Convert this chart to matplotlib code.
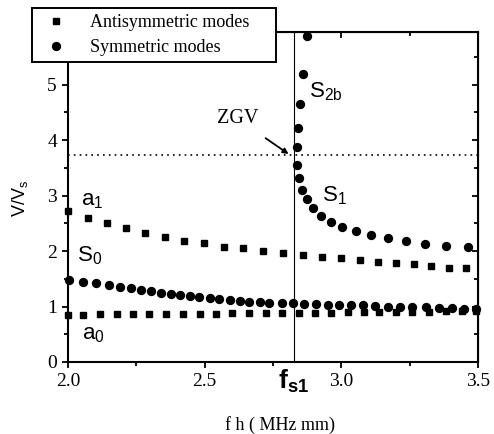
import matplotlib
matplotlib.use("Agg")
import matplotlib.pyplot as plt
import matplotlib.transforms as mtransforms
from matplotlib.patches import Rectangle

# antisymmetric modes (squares)
a1_x = [2.0, 2.073, 2.142, 2.212, 2.281, 2.354, 2.423, 2.496, 2.569, 2.642, 2.712,
        2.785, 2.858, 2.93, 3.0, 3.069, 3.135, 3.20, 3.266, 3.328, 3.394, 3.456]
a1_y = [2.72, 2.60, 2.50, 2.41, 2.32, 2.25, 2.19, 2.14, 2.08, 2.05, 2.01,
        1.97, 1.93, 1.90, 1.87, 1.84, 1.81, 1.78, 1.76, 1.73, 1.70, 1.69]
a0_x = [2.0, 2.054, 2.117, 2.178, 2.238, 2.297, 2.360, 2.421, 2.482, 2.543, 2.601, 2.662, 2.723,
        2.784, 2.844, 2.905, 2.962, 3.023, 3.084, 3.139, 3.20, 3.260, 3.321, 3.382, 3.443, 3.492]
a0_y = [0.85, 0.85, 0.86, 0.865, 0.865, 0.865, 0.87, 0.87, 0.87, 0.87, 0.877, 0.877, 0.877,
        0.88, 0.88, 0.888, 0.888, 0.895, 0.90, 0.90, 0.905, 0.91, 0.91, 0.915, 0.915, 0.915]

# symmetric modes (circles)
s0_x = [2.005, 2.054, 2.102, 2.149, 2.190, 2.229, 2.266, 2.303, 2.341, 2.376, 2.411, 2.445,
        2.481, 2.518, 2.552, 2.591, 2.628, 2.664, 2.702, 2.735, 2.784, 2.822, 2.865, 2.908,
        2.95, 2.993, 3.035, 3.080, 3.124, 3.169, 3.214, 3.26, 3.309, 3.358, 3.404, 3.449, 3.492]
s0_y = [1.47, 1.44, 1.42, 1.39, 1.36, 1.33, 1.30, 1.28, 1.25, 1.23, 1.21, 1.19,
        1.18, 1.15, 1.13, 1.12, 1.10, 1.09, 1.08, 1.07, 1.065, 1.055, 1.045, 1.04,
        1.03, 1.03, 1.025, 1.02, 1.01, 1.0, 1.0, 0.995, 0.99, 0.98, 0.975, 0.96, 0.95]
s1_x = [2.876, 2.859, 2.849, 2.842, 2.838, 2.838, 2.846, 2.856, 2.873, 2.897, 2.926,
        2.962, 3.003, 3.054, 3.108, 3.169, 3.236, 3.307, 3.384, 3.464]
s1_y = [5.87, 5.20, 4.65, 4.22, 3.87, 3.56, 3.32, 3.10, 2.93, 2.78, 2.64,
        2.53, 2.44, 2.37, 2.29, 2.23, 2.18, 2.13, 2.10, 2.07]

fs1 = 2.825
zgv = 3.73

plt.rcParams['font.family'] = 'Liberation Serif'
plt.rcParams['mathtext.fontset'] = 'custom'
plt.rcParams['mathtext.rm'] = 'Liberation Sans'
plt.rcParams['mathtext.bf'] = 'Liberation Sans:bold'

fig = plt.figure(figsize=(4.94, 4.34), dpi=100)
ax = fig.add_axes([68/494, 72/434, 410/494, 330/434])

sq, = ax.plot(a1_x, a1_y, 's', color='black', ms=5, label='Antisymmetric modes', clip_on=False)
ax.plot(a0_x, a0_y, 's', color='black', ms=5, clip_on=False)
ci, = ax.plot(s0_x, s0_y, 'o', color='black', ms=5.7, label='Symmetric modes', clip_on=False)
ax.plot(s1_x, s1_y, 'o', color='black', ms=5.7, clip_on=False)

ax.axvline(fs1, color='black', lw=0.8)
ax.axhline(zgv, color='black', lw=1.2, ls=(0, (1, 2.5)))

ax.set_xlim(2.0, 3.5)
ax.set_ylim(0, 5.95)
ax.set_xticks([2.0, 2.5, 3.0, 3.5])
ax.set_xticklabels(['2.0', '2.5', '3.0', '3.5'])
ax.set_xticks([2.25, 2.75, 3.25], minor=True)
ax.set_yticks([0, 1, 2, 3, 4, 5])
ax.set_yticks([0.5, 1.5, 2.5, 3.5, 4.5, 5.5], minor=True)
ax.tick_params(which='both', direction='out', width=1.3, labelsize=14)
ax.tick_params(which='major', length=4.5)
ax.tick_params(which='minor', length=3)
for s in ax.spines.values():
    s.set_linewidth(1.5)

top = ax.secondary_xaxis('top')
top.set_xticks([2.0, 2.5, 3.0, 3.5])
top.set_xticks([2.25, 2.75, 3.25], minor=True)
top.tick_params(which='both', direction='in', labeltop=False, width=1.3)
top.tick_params(which='major', length=4.5)
top.tick_params(which='minor', length=3)
right = ax.secondary_yaxis('right')
right.set_yticks([0, 1, 2, 3, 4, 5])
right.set_yticks([0.5, 1.5, 2.5, 3.5, 4.5, 5.5], minor=True)
right.tick_params(which='both', direction='in', labelright=False, width=1.3)
right.tick_params(which='major', length=4.5)
right.tick_params(which='minor', length=3)

ax.set_ylabel(r'V/V$_\mathrm{s}$', fontsize=13, family='Liberation Sans', va='center')
ax.yaxis.set_label_coords(-48/410, 164/330)
ax.set_xlabel('f h ( MHz mm)', fontsize=13, va='center')
ax.xaxis.set_label_coords(212/410, -63/330)

# mode labels
ax.text(2.047, 2.90, r'$\mathrm{a}_1$', fontsize=16, va='center', ha='left')
ax.text(2.033, 1.92, r'$\mathrm{S}_0$', fontsize=16, va='center', ha='left')
ax.text(2.05, 0.48, r'$\mathrm{a}_0$', fontsize=16, va='center', ha='left')
ax.text(2.883, 4.87, r'$\mathrm{S}_{\mathrm{2b}}$', fontsize=16, va='center', ha='left')
ax.text(2.93, 2.99, r'$\mathrm{S}_1$', fontsize=16, va='center', ha='left')

ax.annotate('ZGV', xy=(2.807, 3.75), xytext=(2.62, 4.385), fontsize=14.5,
            ha='center', va='center',
            arrowprops=dict(arrowstyle='-|>', color='black', lw=1.3,
                            shrinkA=9, shrinkB=0, mutation_scale=8))

trans = mtransforms.blended_transform_factory(ax.transData, ax.transAxes)
ax.text(fs1, -0.018, r'$\mathbf{f}_{\mathbf{s1}}$', transform=trans, fontsize=19,
        ha='center', va='top')

# legend box drawn by hand so its size matches the original
fig.patches.append(Rectangle((32/494, 1 - 62/434), 244/494, 54/434, transform=fig.transFigure,
                             facecolor='white', edgecolor='black', lw=1.4, zorder=4))
leg = fig.legend(handles=[sq, ci], loc='upper left', bbox_to_anchor=(32/494, 1 - 8/434),
                 borderaxespad=0, frameon=False, fontsize=13, handlelength=2.0,
                 handletextpad=0.85, borderpad=0.35, labelspacing=0.45)
leg.set_zorder(5)

fig.savefig('out.png', dpi=100)
